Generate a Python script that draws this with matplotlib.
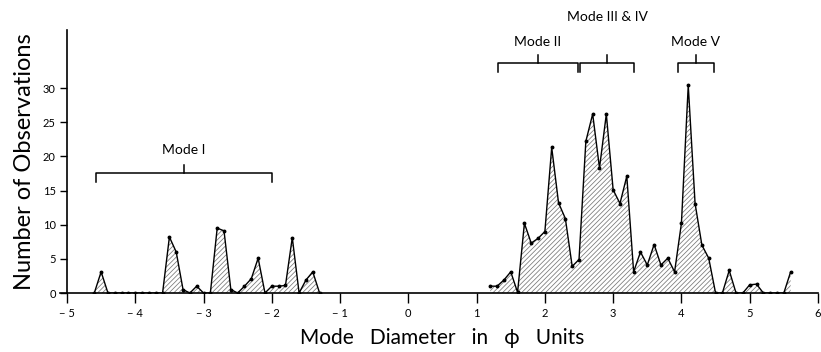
import numpy as np
import matplotlib
matplotlib.use('Agg')
import matplotlib.pyplot as plt

plt.rcParams['font.family'] = ['Lato', 'DejaVu Sans']
plt.rcParams['hatch.color'] = '#666666'
plt.rcParams['hatch.linewidth'] = 0.55

#%% data (phi, number of observations)
phi_left = [-4.6, -4.5, -4.4, -4.3, -4.2, -4.1, -4.0, -3.9, -3.8, -3.7, -3.6,
            -3.5, -3.4, -3.3, -3.2, -3.1, -3.0, -2.9, -2.8, -2.7, -2.6, -2.5,
            -2.4, -2.3, -2.2, -2.1, -2.0, -1.9, -1.8, -1.7, -1.6, -1.5, -1.4, -1.3]
obs_left = [0, 3.1, 0, 0, 0, 0, 0, 0, 0, 0, 0,
            8.2, 6.0, 0.5, 0, 1.0, 0, 0, 9.5, 9.1, 0.5, 0,
            1.0, 2.1, 5.1, 0, 1.0, 1.0, 1.1, 8.1, 0, 1.9, 3.1, 0]

phi_right = [1.2, 1.3, 1.4, 1.5, 1.6, 1.7, 1.8, 1.9, 2.0, 2.1, 2.2, 2.3, 2.4,
             2.5, 2.6, 2.7, 2.8, 2.9, 3.0, 3.1, 3.2, 3.3, 3.4, 3.5, 3.6, 3.7,
             3.8, 3.9, 4.0, 4.1, 4.2, 4.3, 4.4, 4.5, 4.6, 4.7, 4.8, 4.9, 5.0,
             5.1, 5.2, 5.3, 5.4, 5.5, 5.6]
obs_right = [1.0, 1.0, 1.9, 3.1, 0.1, 10.2, 7.3, 8.0, 9.0, 21.3, 13.2, 10.9, 3.9,
             4.9, 22.2, 26.2, 18.3, 26.2, 15.1, 13.1, 17.1, 3.1, 6.0, 4.1, 7.1, 4.1,
             5.1, 3.1, 10.2, 30.4, 13.1, 7.0, 5.1, 0, 0, 3.3, 0, 0, 1.2,
             1.3, 0, 0, 0, 0, 3.1]

# mode brackets: label, start, end
mode_names = ['Mode I', 'Mode II', 'Mode III & IV', 'Mode V']
mode_start = [-4.58, 1.31, 2.52, 3.95]
mode_end = [-2.0, 2.48, 3.30, 4.47]
mode_level = [17.6, 33.7, 33.7, 33.7]
label_level = [20.9, 36.7, 40.4, 36.7]

#%% figure
fig = plt.figure(figsize=(8.21, 3.52), dpi=100)
ax = fig.add_axes([0.0816, 0.1676, 0.9147, 0.7472])

for xs, ys in [(phi_left, obs_left), (phi_right, obs_right)]:
    xs = np.array(xs)
    ys = np.array(ys)
    ax.fill_between(xs, 0, ys, facecolor='white', hatch='///////',
                    edgecolor='#777777', linewidth=0)
    ax.plot(xs, ys, color='black', lw=1.0, marker='o', ms=1.8)

for name, a, b, lv, tl in zip(mode_names, mode_start, mode_end, mode_level, label_level):
    c = (a + b) / 2
    ax.plot([a, a, b, b], [lv - 1.4, lv, lv, lv - 1.4], color='black', lw=1.1,
            clip_on=False)
    ax.plot([c, c], [lv, lv + 1.2], color='black', lw=1.1, clip_on=False)
    ax.text(c, tl, name, ha='center', va='center', fontsize=10)

ax.set_xlim(-5, 6)
ax.set_ylim(0, 38.5)
ax.spines['top'].set_visible(False)
ax.spines['right'].set_visible(False)
ax.spines['left'].set_linewidth(1.2)
ax.spines['bottom'].set_linewidth(1.2)
ax.spines['bottom'].set_bounds(-5.1, 6)
ax.set_xticks(range(-5, 7))
ax.set_xticklabels(['\u2212 ' + str(-v) if v < 0 else str(v) for v in range(-5, 7)])
ax.set_yticks(range(0, 31, 5))
ax.tick_params(axis='x', direction='out', length=7, width=1, labelsize=8, pad=4)
ax.tick_params(axis='y', direction='out', length=5, width=1, labelsize=8, pad=3)

ax.set_xlabel('Mode   Diameter   in   \u03d5   Units', fontsize=15, labelpad=6)
ax.set_ylabel('Number of Observations', fontsize=17, labelpad=6)

fig.savefig('out.png', dpi=100)
